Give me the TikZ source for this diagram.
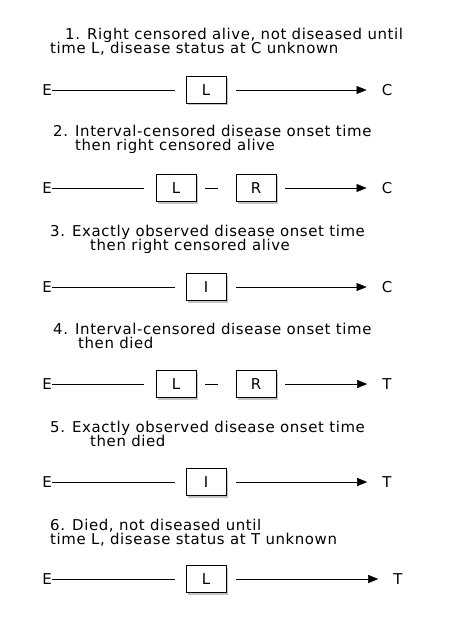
\documentclass[tikz,border=0pt]{standalone}
\usepackage{fontspec}
\setmainfont[LetterSpace=4]{DejaVu Sans}
\usetikzlibrary{arrows.meta,shadows,positioning}

\begin{document}
\begin{tikzpicture}[x=1bp,y=-1bp,
    every node/.style={font=\fontsize{15}{16}\selectfont, inner sep=0pt},
    ttl/.style={anchor=base west},
    obs/.style={draw, fill=white, minimum width=40bp, minimum height=27bp,
      drop shadow={shadow xshift=2bp, shadow yshift=-2bp, fill=black!45}},
    arr/.style={-{Triangle[length=10bp,width=8bp]}}]
  \useasboundingbox (0,0) rectangle (470,630);

  % 1
  \node [ttl] (t1a) at (65,40) {1. Right censored alive, not diseased until};
  \node [ttl] (t1b) at (50,54) {time L, disease status at C unknown};
  \node (E1) at (47,90) {E};
  \node [obs] (L1) at (206,90) {L};
  \node (C1) at (387,90) {C};
  \draw [shorten >=11bp] (E1) -- (L1);
  \draw [arr, shorten <=10bp, shorten >=15bp] (L1) -- (C1);

  % 2
  \node [ttl] (t2a) at (53,137) {2. Interval-censored disease onset time};
  \node [ttl] (t2b) at (75,151) {then right censored alive};
  \node (E2) at (47,188) {E};
  \node [obs] (L2) at (176,188) {L};
  \node [obs] (R2) at (256,188) {R};
  \node (C2) at (387,188) {C};
  \draw [shorten >=12bp] (E2) -- (L2);
  \draw [shorten <=9bp, shorten >=18bp] (L2) -- (R2);
  \draw [arr, shorten <=9bp, shorten >=15bp] (R2) -- (C2);

  % 3
  \node [ttl] (t3a) at (50,236) {3. Exactly observed disease onset time};
  \node [ttl] (t3b) at (90,250) {then right censored alive};
  \node (E3) at (47,287) {E};
  \node [obs] (I3) at (206,287) {I};
  \node (C3) at (387,287) {C};
  \draw [shorten >=11bp] (E3) -- (I3);
  \draw [arr, shorten <=10bp, shorten >=15bp] (I3) -- (C3);

  % 4
  \node [ttl] (t4a) at (53,334) {4. Interval-censored disease onset time};
  \node [ttl] (t4b) at (78,348) {then died};
  \node (E4) at (47,384) {E};
  \node [obs] (L4) at (176,384) {L};
  \node [obs] (R4) at (256,384) {R};
  \node (T4) at (387,384) {T};
  \draw [shorten >=12bp] (E4) -- (L4);
  \draw [shorten <=9bp, shorten >=18bp] (L4) -- (R4);
  \draw [arr, shorten <=9bp, shorten >=15bp] (R4) -- (T4);

  % 5
  \node [ttl] (t5a) at (50,432) {5. Exactly observed disease onset time};
  \node [ttl] (t5b) at (90,446) {then died};
  \node (E5) at (47,482) {E};
  \node [obs] (I5) at (206,482) {I};
  \node (T5) at (387,482) {T};
  \draw [shorten >=11bp] (E5) -- (I5);
  \draw [arr, shorten <=10bp, shorten >=15bp] (I5) -- (T5);

  % 6
  \node [ttl] (t6a) at (50,530) {6. Died, not diseased until};
  \node [ttl] (t6b) at (50,544) {time L, disease status at T unknown};
  \node (E6) at (47,579) {E};
  \node [obs] (L6) at (206,579) {L};
  \node (T6) at (398,579) {T};
  \draw [shorten >=11bp] (E6) -- (L6);
  \draw [arr, shorten <=10bp, shorten >=15bp] (L6) -- (T6);
\end{tikzpicture}
\end{document}
